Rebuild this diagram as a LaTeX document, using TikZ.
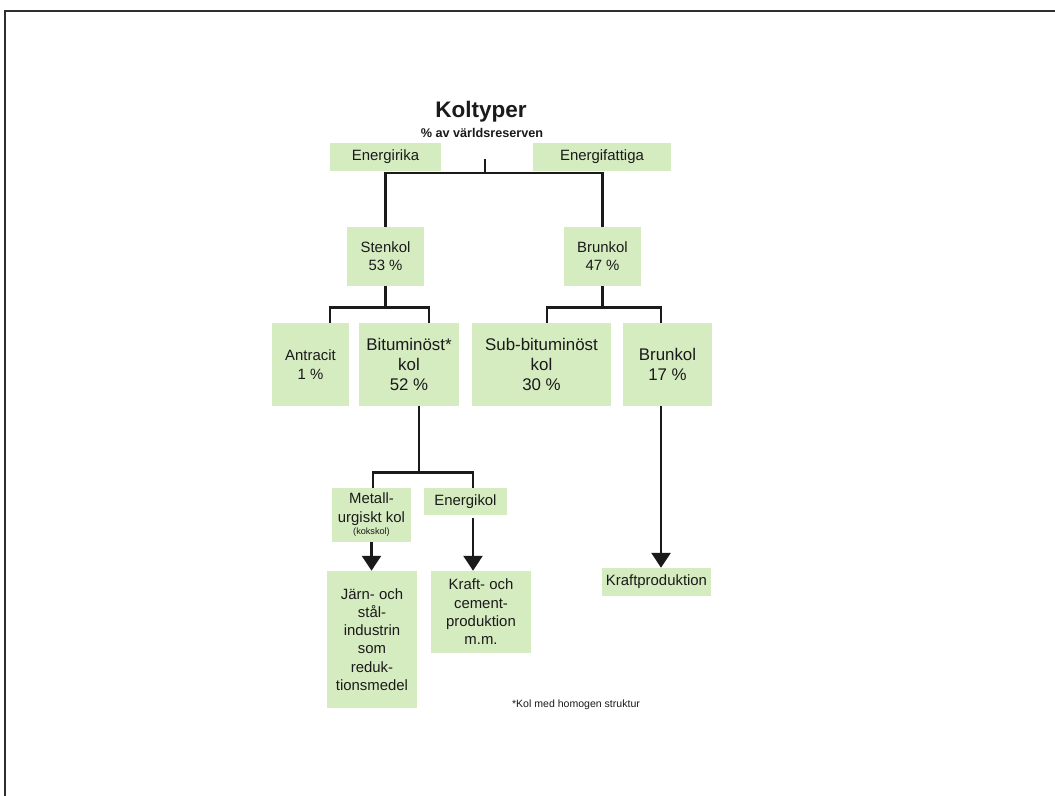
\documentclass[tikz,border=0pt]{standalone}
\usepackage{fontspec}
\setmainfont{Liberation Sans}
\usetikzlibrary{calc,arrows.meta}
\definecolor{cBox}{HTML}{D5EBC0}
\definecolor{cInk}{HTML}{1A1A1A}
\definecolor{cFrame}{HTML}{2E2E2E}
\tikzset{
  kbox/.style={fill=cBox, inner sep=0pt, align=center, text=cInk,
    font=\fontsize{10.6}{13}\selectfont},
  kbig/.style={kbox, font=\fontsize{12}{14}\selectfont},
  kline/.style={line width=2pt, draw=cInk},
  karrow/.style={kline, -{Triangle[length=10.6pt,width=13.5pt]}},
}

\begin{document}
\begin{tikzpicture}[x=0.025cm, y=-0.025cm]

  \useasboundingbox[fill=white] (0,0) rectangle (1055,796);

  % ---------- frame ----------
  \draw[cFrame, line width=1.4pt] (5,796) -- (5,11) -- (1055,11);

  % ---------- title ----------
  \node[font=\fontsize{16}{18}\selectfont\bfseries, text=cInk] (title) at (481,112) {Koltyper};
  \node[font=\fontsize{9}{11}\selectfont\bfseries, text=cInk] (sub) at (482,133) {\% av världsreserven};
  \coordinate (root) at (485,159);

  % ---------- first level ----------
  \node[kbox, minimum width=2.775cm, minimum height=0.7cm] (rik) at (385.5,157) {Energirika};
  \node[kbox, minimum width=3.45cm, minimum height=0.7cm] (fattig) at (602,157) {Energifattiga};
  \node[kbox, minimum width=1.925cm, minimum height=1.475cm] (stenkol) at (385.5,256.5) {Stenkol\\53 \%};
  \node[kbox, minimum width=1.925cm, minimum height=1.475cm] (brunkol) at (602.5,256.5) {Brunkol\\47 \%};

  % ---------- second level ----------
  \node[kbox, minimum width=1.925cm, minimum height=2.075cm] (antracit) at (310.5,364.5) {Antracit\\1 \%};
  \node[kbig, minimum width=2.5cm, minimum height=2.075cm] (bitum) at (409,364.5) {Bituminöst*\\kol\\52 \%};
  \node[kbig, minimum width=3.475cm, minimum height=2.075cm] (subbit) at (541.5,364.5) {Sub-bituminöst\\kol\\30 \%};
  \node[kbig, minimum width=2.225cm, minimum height=2.075cm] (brunkolB) at (667.5,364.5) {Brunkol\\17 \%};

  % ---------- use ----------
  \node[kbox, minimum width=1.975cm, minimum height=1.35cm] (metall) at (371.5,515)
    {Metall-\\urgiskt kol\\[-4pt]{\fontsize{6.5}{7}\selectfont(kokskol)}};
  \node[kbox, minimum width=2.075cm, minimum height=0.675cm] (energikol) at (465.5,501.5) {Energikol};
  \node[kbox, minimum width=2.25cm, minimum height=3.425cm] (jarn) at (372,639.5)
    {Järn- och\\stål-\\industrin\\som\\reduk-\\tionsmedel};
  \node[kbox, minimum width=2.5cm, minimum height=2.05cm] (kraft) at (481,612)
    {Kraft- och\\cement-\\produktion\\m.m.};
  \node[kbox, minimum width=2.725cm, minimum height=0.7cm] (kraftprod) at (656.5,582) {Kraftproduktion};

  % ---------- connectors ----------
  \draw[kline] (root) -- ++(0,14) -| (stenkol.north);
  \draw[kline] (root) -- ++(0,14) -| (brunkol.north);

  \draw[kline] (stenkol.south) -- ++(0,21) coordinate (sk);
  \draw[kline] ($(antracit.north)+(19.5,0)$) |- (sk) -| ($(bitum.north)+(20,0)$);
  \draw[kline] (brunkol.south) -- ++(0,21) coordinate (bk);
  \draw[kline] ($(subbit.north)+(5.5,0)$) |- (bk) -| ($(brunkolB.north)+(-6.5,0)$);

  \draw[kline] ($(bitum.south)+(10,0)$) -- ++(0,66) coordinate (bt);
  \draw[kline] ($(metall.north)+(1.5,0)$) |- (bt) -| ($(energikol.north)+(7.5,0)$);

  \coordinate (ek) at ($(energikol.south)+(7.5,3)$);
  \coordinate (bb) at ($(brunkolB.south)+(-6.5,0)$);
  \draw[karrow] (metall.south) -- (metall.south |- jarn.north);
  \draw[karrow] (ek) -- (ek |- kraft.north);
  \draw[karrow] (bb) -- (bb |- kraftprod.north);

  % ---------- footnote ----------
  \node[font=\fontsize{7.5}{9}\selectfont, text=cInk] (note) at (576,705) {*Kol med homogen struktur};

\end{tikzpicture}
\end{document}
